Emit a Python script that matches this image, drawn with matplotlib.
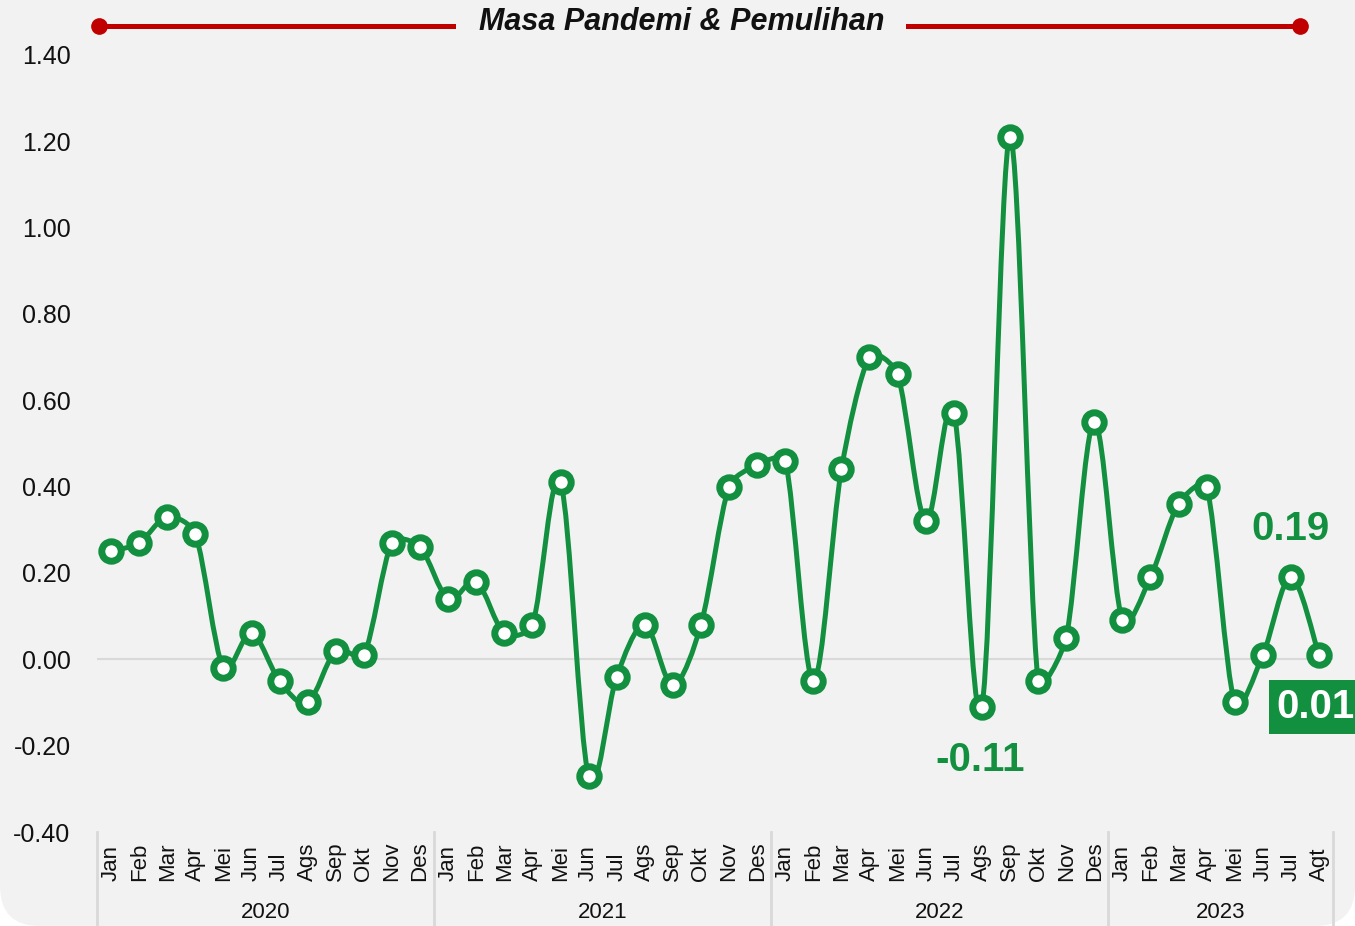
import numpy as np
import matplotlib
matplotlib.use('Agg')
import matplotlib.pyplot as plt
from matplotlib.path import Path
from matplotlib.patches import PathPatch, FancyBboxPatch
from matplotlib.lines import Line2D
from matplotlib.transforms import blended_transform_factory, IdentityTransform

plt.rcParams['font.family'] = ['Liberation Sans Narrow', 'Liberation Sans', 'DejaVu Sans']

# data
years = ['2020', '2021', '2022', '2023']
months_per_year = [12, 12, 12, 8]
month_names = ['Jan', 'Feb', 'Mar', 'Apr', 'Mei', 'Jun', 'Jul', 'Ags', 'Sep', 'Okt', 'Nov', 'Des']
months = month_names * 3 + ['Jan', 'Feb', 'Mar', 'Apr', 'Mei', 'Jun', 'Jul', 'Agt']

v2020 = [0.25, 0.27, 0.33, 0.29, -0.02, 0.06, -0.05, -0.10, 0.02, 0.01, 0.27, 0.26]
v2021 = [0.14, 0.18, 0.06, 0.08, 0.41, -0.27, -0.04, 0.08, -0.06, 0.08, 0.40, 0.45]
v2022 = [0.46, -0.05, 0.44, 0.70, 0.66, 0.32, 0.57, -0.11, 1.21, -0.05, 0.05, 0.55]
v2023 = [0.09, 0.19, 0.36, 0.40, -0.10, 0.01, 0.19, 0.01]
values = v2020 + v2021 + v2022 + v2023

title = 'Masa Pandemi & Pemulihan'
GREEN = '#12903f'
RED = '#c00000'
BG = '#f2f2f2'

x = np.arange(len(values))
y = np.array(values)

fig = plt.figure(figsize=(13.55, 9.26), dpi=100, facecolor='white')
# background panel with rounded bottom corners
bg = FancyBboxPatch((0, 0), 1355, 1100, boxstyle='round,pad=0,rounding_size=40',
                    facecolor=BG, edgecolor='none', transform=IdentityTransform(), zorder=-10)
fig.patches.append(bg)

ax = fig.add_axes([97 / 1355, 94 / 926, 1236 / 1355, 777 / 926])
ax.set_facecolor('none')
ax.set_xlim(-0.5, len(values) - 0.5)
ax.set_ylim(-0.4, 1.4)
for s in ax.spines.values():
    s.set_visible(False)
ax.set_yticks(np.arange(-0.4, 1.41, 0.2))
ax.yaxis.set_major_formatter(matplotlib.ticker.FormatStrFormatter('%.2f'))
ax.tick_params(axis='y', length=0, pad=19, labelsize=18, labelcolor='#111111')
ax.set_xticks([])
ax.axhline(0, color='#d9d9d9', lw=1.5, zorder=0)

# smoothed line: catmull-rom style bezier (screen space), control arms clamped
sx = 1236 / len(values)   # px per category
sy = 777 / 1.8            # px per unit
pts = np.column_stack([x * sx, y * sy]).astype(float)
n = len(pts)


def arm(v, L, f=0.33):
    d = np.hypot(*v)
    if d > f * L:
        v = v * (f * L / d)
    return v


verts = [pts[0]]
codes = [Path.MOVETO]
for i in range(n - 1):
    p0 = pts[max(i - 1, 0)]
    p1 = pts[i]
    p2 = pts[i + 1]
    p3 = pts[min(i + 2, n - 1)]
    L = np.hypot(*(p2 - p1))
    c1 = p1 + arm((p2 - p0) / 6, L)
    c2 = p2 - arm((p3 - p1) / 6, L)
    verts += [c1, c2, p2]
    codes += [Path.CURVE4] * 3
verts = np.array(verts) / [sx, sy]
ax.add_patch(PathPatch(Path(verts, codes), facecolor='none', edgecolor=GREEN,
                       lw=3.6, capstyle='round', joinstyle='round', zorder=2))
ax.plot(x, y, 'o', ls='none', ms=14, mfc='white', mec=GREEN, mew=5, zorder=3)

# category axis labels
tr = blended_transform_factory(ax.transData, fig.transFigure)
for i, m in enumerate(months):
    ax.text(i, 1 - 881 / 926, m, transform=tr, rotation=90, ha='center', va='bottom',
            fontsize=16, color='#111111', clip_on=False)
bounds = np.concatenate([[0], np.cumsum(months_per_year)]) - 0.5
for b in bounds:
    fig.add_artist(Line2D([b, b], [0, 94 / 926], transform=tr, color='#d9d9d9', lw=2))
for j, yr in enumerate(years):
    ax.text((bounds[j] + bounds[j + 1]) / 2, 1 - 912 / 926, yr, transform=tr,
            ha='center', va='center', fontsize=16, color='#111111', clip_on=False)

# annotations
i19 = len(values) - 2
ax.annotate(f'{values[i19]:.2f}', (x[i19], y[i19]), xytext=(0, 48), textcoords='offset pixels',
            ha='center', va='center', fontsize=29, fontweight='bold', color=GREEN)
imin = 31
ax.annotate(f'{values[imin]:.2f}', (x[imin], y[imin]), xytext=(-2, -53), textcoords='offset pixels',
            ha='center', va='center', fontsize=29, fontweight='bold', color=GREEN)
ilast = len(values) - 1
ax.annotate(f'{values[ilast]:.2f}', (x[ilast], y[ilast]), xytext=(-3, -52), textcoords='offset pixels',
            ha='center', va='center', fontsize=29, fontweight='bold', color='white',
            bbox=dict(boxstyle='square,pad=0.2', facecolor=GREEN, edgecolor='none'),
            annotation_clip=False)

# title with red lines
ty = 1 - 26 / 926
fig.add_artist(Line2D([99 / 1355, 453 / 1355], [ty, ty], color=RED, lw=3.6))
fig.add_artist(Line2D([908 / 1355, 1300 / 1355], [ty, ty], color=RED, lw=3.6))
fig.add_artist(Line2D([99 / 1355], [ty], marker='o', ms=11, color=RED, ls='none'))
fig.add_artist(Line2D([1300 / 1355], [ty], marker='o', ms=11, color=RED, ls='none'))
fig.text(681.5 / 1355, 1 - 22 / 926, title, ha='center', va='center', fontsize=22,
         fontweight='bold', fontstyle='italic', color='#111111')

fig.savefig('out.png', dpi=100, facecolor=fig.get_facecolor())
